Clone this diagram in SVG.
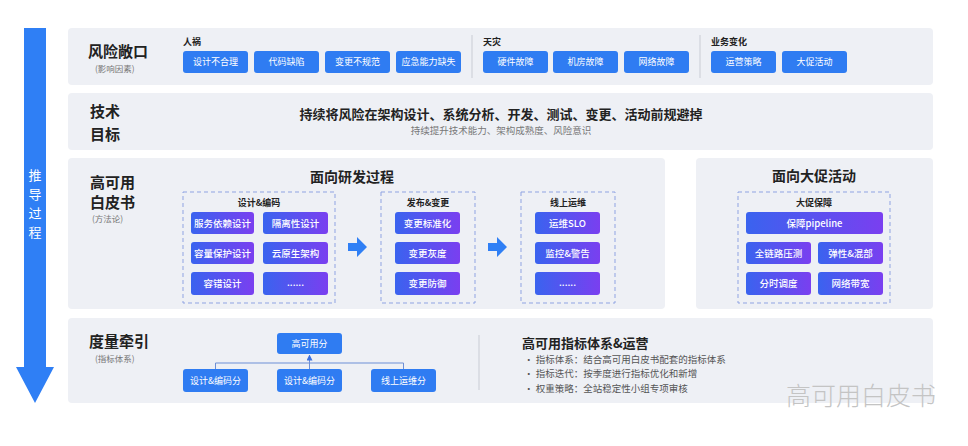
<svg xmlns="http://www.w3.org/2000/svg" width="968" height="446" viewBox="0 0 968 446">
<defs>
<linearGradient id="g" x1="0" y1="0" x2="1" y2="0">
<stop offset="0" stop-color="#3a63ef"/>
<stop offset="1" stop-color="#7a3ff0"/>
</linearGradient>
<marker id="ah" viewBox="0 0 6 6" refX="5" refY="3" markerWidth="6" markerHeight="6" orient="auto">
<path d="M0,0 L6,3 L0,6 Z" fill="#3a6fe0"/>
</marker>
<style>
text{font-family:"Noto Sans CJK SC","Noto Sans",sans-serif}
.panel{fill:#eef0f5}
.btn{fill:#2f7cf2}
.gbtn{fill:url(#g)}
.bt{fill:#fff;font-size:9px;text-anchor:middle}
.gt{fill:#fff;font-size:9.5px;text-anchor:middle;font-weight:500}
.h{fill:#222;font-size:15px;font-weight:700}
.sub{fill:#777;font-size:8.5px}
.grp{fill:#222;font-size:9px;font-weight:700}
.dash{fill:none;stroke:#8fa3e2;stroke-width:1;stroke-dasharray:4 3}
.title{fill:#222;font-size:14px;font-weight:700;text-anchor:middle}
.div{stroke:#c9ccd4;stroke-width:1}
.li{fill:#555;font-size:9.5px}
.conn{fill:none;stroke:#6d8fd6;stroke-width:1}
</style>
</defs>
<rect width="968" height="446" fill="#fff"/>

<g id="flow-arrow">
<polygon points="24,28 46,28 46,367 54,367 35,403 16,367 24,367" fill="#2f7ff5"/>
<text x="35" y="180" fill="#fff" font-size="13" text-anchor="middle">推</text>
<text x="35" y="199" fill="#fff" font-size="13" text-anchor="middle">导</text>
<text x="35" y="218" fill="#fff" font-size="13" text-anchor="middle">过</text>
<text x="35" y="237" fill="#fff" font-size="13" text-anchor="middle">程</text>
</g>

<g id="row-risk">
<rect class="panel" x="68" y="28" width="865" height="57" rx="4"/>
<text class="h" x="88" y="57">风险敞口</text>
<text class="sub" x="95" y="72">(影响因素)</text>
<line class="div" x1="472" y1="35" x2="472" y2="78"/>
<line class="div" x1="700" y1="35" x2="700" y2="78"/>
<text class="grp" x="183" y="45">人祸</text>
<text class="grp" x="483" y="45">天灾</text>
<text class="grp" x="711" y="45">业务变化</text>
<g id="r1"><rect class="btn" x="183" y="51" width="65" height="22" rx="3"/><text class="bt" x="215.5" y="65">设计不合理</text></g>
<g id="r2"><rect class="btn" x="254" y="51" width="65" height="22" rx="3"/><text class="bt" x="286.5" y="65">代码缺陷</text></g>
<g id="r3"><rect class="btn" x="325" y="51" width="65" height="22" rx="3"/><text class="bt" x="357.5" y="65">变更不规范</text></g>
<g id="r4"><rect class="btn" x="396" y="51" width="65" height="22" rx="3"/><text class="bt" x="428.5" y="65">应急能力缺失</text></g>
<g id="r5"><rect class="btn" x="483" y="51" width="65" height="22" rx="3"/><text class="bt" x="515.5" y="65">硬件故障</text></g>
<g id="r6"><rect class="btn" x="553" y="51" width="65" height="22" rx="3"/><text class="bt" x="585.5" y="65">机房故障</text></g>
<g id="r7"><rect class="btn" x="624" y="51" width="65" height="22" rx="3"/><text class="bt" x="656.5" y="65">网络故障</text></g>
<g id="r8"><rect class="btn" x="711" y="51" width="65" height="22" rx="3"/><text class="bt" x="743.5" y="65">运营策略</text></g>
<g id="r9"><rect class="btn" x="782" y="51" width="65" height="22" rx="3"/><text class="bt" x="814.5" y="65">大促活动</text></g>
</g>

<g id="row-goal">
<rect class="panel" x="68" y="93" width="865" height="57" rx="4"/>
<text class="h" x="90" y="117" font-weight="500">技术</text>
<text class="h" x="90" y="140" font-weight="500">目标</text>
<text x="501" y="119" fill="#222" font-size="13" font-weight="700" text-anchor="middle">持续将风险在架构设计、系统分析、开发、测试、变更、活动前规避掉</text>
<text x="501" y="134" fill="#777" font-size="9.5" text-anchor="middle">持续提升技术能力、架构成熟度、风险意识</text>
</g>

<g id="row-method">
<rect class="panel" x="68" y="158" width="597" height="151" rx="4"/>
<text class="h" x="90" y="188">高可用</text>
<text class="h" x="90" y="208">白皮书</text>
<text class="sub" x="92" y="222">(方法论)</text>
<text class="title" x="352" y="182">面向研发过程</text>

<g id="box-design">
<rect class="dash" x="183" y="192" width="152" height="111"/>
<text class="grp" x="259" y="206" text-anchor="middle">设计&amp;编码</text>
<g><rect class="gbtn" x="191" y="212" width="63" height="22" rx="3"/><text class="gt" x="222.5" y="226.5">服务依赖设计</text></g>
<g><rect class="gbtn" x="263" y="212" width="65" height="22" rx="3"/><text class="gt" x="295.5" y="226.5">隔离性设计</text></g>
<g><rect class="gbtn" x="191" y="242" width="63" height="22" rx="3"/><text class="gt" x="222.5" y="256.5">容量保护设计</text></g>
<g><rect class="gbtn" x="263" y="242" width="65" height="22" rx="3"/><text class="gt" x="295.5" y="256.5">云原生架构</text></g>
<g><rect class="gbtn" x="191" y="272" width="63" height="23" rx="3"/><text class="gt" x="222.5" y="287">容错设计</text></g>
<g><rect class="gbtn" x="263" y="272" width="65" height="23" rx="3"/><text class="gt" x="295.5" y="286">......</text></g>
</g>

<g id="box-release">
<rect class="dash" x="381" y="192" width="94" height="111"/>
<text class="grp" x="428" y="206" text-anchor="middle">发布&amp;变更</text>
<g><rect class="gbtn" x="395" y="212" width="65" height="22" rx="3"/><text class="gt" x="427.5" y="226.5">变更标准化</text></g>
<g><rect class="gbtn" x="395" y="242" width="65" height="22" rx="3"/><text class="gt" x="427.5" y="256.5">变更灰度</text></g>
<g><rect class="gbtn" x="395" y="272" width="65" height="23" rx="3"/><text class="gt" x="427.5" y="287">变更防御</text></g>
</g>

<g id="box-ops">
<rect class="dash" x="521" y="192" width="94" height="111"/>
<text class="grp" x="568" y="206" text-anchor="middle">线上运维</text>
<g><rect class="gbtn" x="535" y="212" width="65" height="22" rx="3"/><text class="gt" x="567.5" y="226.5">运维SLO</text></g>
<g><rect class="gbtn" x="535" y="242" width="65" height="22" rx="3"/><text class="gt" x="567.5" y="256.5">监控&amp;警告</text></g>
<g><rect class="gbtn" x="535" y="272" width="65" height="23" rx="3"/><text class="gt" x="567.5" y="286">......</text></g>
</g>

<g id="step-arrows">
<polygon points="348,243 357,243 357,237 367,247 357,257 357,251 348,251" fill="#2f7ff5"/>
<polygon points="488,243 497,243 497,237 507,247 497,257 497,251 488,251" fill="#2f7ff5"/>
</g>
</g>

<g id="row-promo">
<rect class="panel" x="696" y="158" width="237" height="151" rx="4"/>
<text class="title" x="814" y="181">面向大促活动</text>
<rect class="dash" x="738" y="192" width="152" height="111"/>
<text class="grp" x="814" y="206" text-anchor="middle">大促保障</text>
<g><rect class="gbtn" x="746" y="212" width="137" height="22" rx="3"/><text class="gt" x="814.5" y="226.5">保障pipeline</text></g>
<g><rect class="gbtn" x="746" y="242" width="65" height="22" rx="3"/><text class="gt" x="778.5" y="256.5">全链路压测</text></g>
<g><rect class="gbtn" x="818" y="242" width="65" height="22" rx="3"/><text class="gt" x="850.5" y="256.5">弹性&amp;混部</text></g>
<g><rect class="gbtn" x="746" y="272" width="65" height="23" rx="3"/><text class="gt" x="778.5" y="287">分时调度</text></g>
<g><rect class="gbtn" x="818" y="272" width="65" height="23" rx="3"/><text class="gt" x="850.5" y="287">网络带宽</text></g>
</g>

<g id="row-metric">
<rect class="panel" x="68" y="318" width="865" height="85" rx="4"/>
<text class="h" x="89" y="347">度量牵引</text>
<text class="sub" x="95" y="362">(指标体系)</text>
<line class="div" x1="479" y1="335" x2="479" y2="390"/>
<text x="522" y="348" fill="#222" font-size="13" font-weight="700">高可用指标体系&amp;运营</text>
<text class="li" x="524" y="363">·  指标体系：结合高可用白皮书配套的指标体系</text>
<text class="li" x="524" y="377">·  指标迭代：按季度进行指标优化和新增</text>
<text class="li" x="524" y="392">·  权重策略：全站稳定性小组专项审核</text>
</g>

<g id="connectors">
<polyline class="conn" points="215.5,369 215.5,363 403.5,363 403.5,369"/>
<line class="conn" x1="309.5" y1="369" x2="309.5" y2="363"/>
<line class="conn" x1="309.5" y1="363" x2="309.5" y2="355.5" marker-end="url(#ah)"/>
</g>

<g id="m-top"><rect class="btn" x="277" y="333" width="65" height="21" rx="3"/><text class="bt" x="309.5" y="347">高可用分</text></g>
<g id="m-1"><rect class="btn" x="183" y="369" width="65" height="23" rx="3"/><text class="bt" x="215.5" y="384">设计&amp;编码分</text></g>
<g id="m-2"><rect class="btn" x="277" y="369" width="65" height="23" rx="3"/><text class="bt" x="309.5" y="384">设计&amp;编码分</text></g>
<g id="m-3"><rect class="btn" x="371" y="369" width="65" height="23" rx="3"/><text class="bt" x="403.5" y="384">线上运维分</text></g>

<text x="861" y="405" fill="#c4c4c4" font-size="25" font-weight="300" text-anchor="middle">高可用白皮书</text>
</svg>
